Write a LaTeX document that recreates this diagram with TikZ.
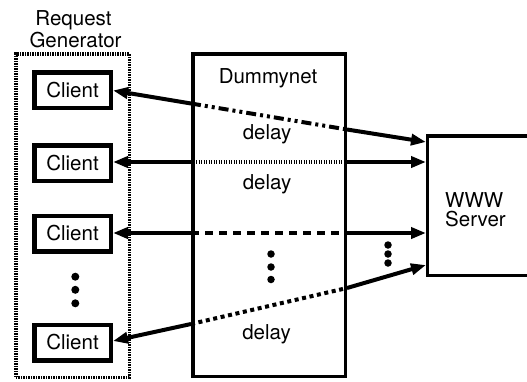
\documentclass[tikz,border=0pt]{standalone}
\usepackage{fontspec}
\setmainfont{TeX Gyre Heros}
\usetikzlibrary{arrows.meta}
\begin{document}
\begin{tikzpicture}[x=1pt,y=-1pt,
  every node/.style={font=\fontsize{20.5}{22}\selectfont},
  clientbox/.style={draw,line width=4.5pt,minimum width=76.5pt,minimum height=35.5pt,inner sep=0pt},
  bigbox/.style={draw,line width=3.5pt,inner sep=0pt},
  lbl/.style={anchor=base,inner sep=0pt},
  conn/.style={line width=4pt},
  tipL/.style={conn,{Triangle[length=15pt,width=11pt]}-},
  tipR/.style={conn,-{Triangle[length=15pt,width=11pt]}},
  dashdotdot/.style={conn,dash pattern=on 10pt off 4pt on 3pt off 4pt on 3pt off 4pt},
  finedots/.style={conn,dash pattern=on 1.4pt off 1.1pt},
  dashes/.style={conn,dash pattern=on 8pt off 6pt},
  sqdots/.style={conn,dash pattern=on 4pt off 3.6pt},
  dot/.style={circle,fill,inner sep=0pt,minimum size=7.5pt}]
\useasboundingbox (0,0) rectangle (527,381);
% boxes
\node[bigbox,dash pattern=on 1.4pt off 1.1pt,minimum width=113.5pt,minimum height=323.5pt] (gen) at (72.5,215.5) {};
\node[bigbox,minimum width=152.5pt,minimum height=322.5pt] (dn) at (269,215) {};
\node[bigbox,minimum width=114.5pt,minimum height=139.5pt] (server) at (484.5,205.5) {};
\node[clientbox] (c1) at (72.5,90) {Client};
\node[clientbox] (c2) at (72.5,163) {Client};
\node[clientbox] (c3) at (72.5,233.5) {Client};
\node[clientbox] (c4) at (72.5,342.5) {Client};
% labels
\node[lbl] (rq1) at (73.5,25) {Request};
\node[lbl] (rq2) at (75.5,47) {Generator};
\node[lbl] (dnl) at (268,83) {Dummynet};
\node[lbl] (d1) at (267,139) {delay};
\node[lbl] (d2) at (267,189) {delay};
\node[lbl] (d3) at (266.5,339) {delay};
\node[lbl,anchor=base west] (w1) at (445,207) {WWW};
\node[lbl,anchor=base west] (w2) at (445,226) {Server};
% connector points
\coordinate (a1l) at (191,103.5);
\coordinate (a1r) at (347,129.5);
\coordinate (s1) at (426,142);
\coordinate (a2l) at (191,162);
\coordinate (a2r) at (347,162);
\coordinate (s2) at (426,162);
\coordinate (a3l) at (191,233);
\coordinate (a3r) at (347,233);
\coordinate (s3) at (426,233);
\coordinate (a4l) at (191,324);
\coordinate (a4r) at (347,288);
\coordinate (s4) at (426,265);
% connectors
\draw[tipL] (c1.east |- 0,90.5) -- (a1l);
\draw[dashdotdot] (a1l) -- (a1r);
\draw[tipR] (a1r) -- (s1);
\draw[tipL] (c2.east |- a2l) -- (a2l);
\draw[finedots] (a2l) -- (a2r);
\draw[tipR] (a2r) -- (s2);
\draw[tipL] (c3.east |- a3l) -- (a3l);
\draw[dashes] (a3l) -- (a3r);
\draw[tipR] (a3r) -- (s3);
\draw[tipL] (c4.east |- 0,341) -- (a4l);
\draw[sqdots] (a4l) -- (a4r);
\draw[tipR] (a4r) -- (s4);
% ellipsis dots
\node[dot,minimum size=8pt] (e1) at (75.3,276.7) {};
\node[dot,minimum size=8pt] (e2) at (75.3,289.8) {};
\node[dot,minimum size=8pt] (e3) at (75.3,303.3) {};
\node[dot] (m1) at (271,254) {};
\node[dot] (m2) at (271,267) {};
\node[dot] (m3) at (271,279.5) {};
\node[dot] (r1) at (388,245) {};
\node[dot] (r2) at (388,254) {};
\node[dot] (r3) at (388,263) {};
\end{tikzpicture}
\end{document}
